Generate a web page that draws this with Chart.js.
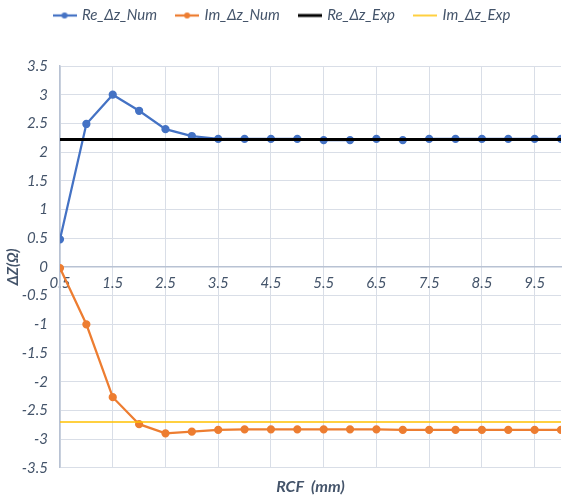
<!DOCTYPE html>
<html>
<head>
<meta charset="utf-8">
<script src="https://cdn.jsdelivr.net/npm/chart.js@4"></script>
<style>
  html,body{margin:0;padding:0;background:#fff;}
  #wrap{width:563px;height:500px;}
</style>
</head>
<body>
<div id="wrap"><canvas id="grafics"></canvas></div>
<script>
// datos
const rcf = [0.5,1,1.5,2,2.5,3,3.5,4,4.5,5,5.5,6,6.5,7,7.5,8,8.5,9,9.5,10]
const re_num = [0.48,2.49,3.0,2.72,2.40,2.28,2.23,2.23,2.23,2.23,2.21,2.21,2.23,2.21,2.23,2.23,2.23,2.23,2.23,2.23]
const im_num = [-0.02,-1.0,-2.27,-2.74,-2.90,-2.87,-2.84,-2.83,-2.83,-2.83,-2.83,-2.83,-2.83,-2.84,-2.84,-2.84,-2.84,-2.84,-2.84,-2.84]
const re_exp = 2.22
const im_exp = -2.70
const x_ticks = [0.5,1.5,2.5,3.5,4.5,5.5,6.5,7.5,8.5,9.5]
const labels = ['Re_Δz_Num','Im_Δz_Num','Re_Δz_Exp','Im_Δz_Exp']

window.addEventListener('load',()=>{
    const canvas = document.getElementById('grafics')
    const txt = '#44546A'
    const grid = '#D9DEE7'
    Chart.defaults.font.family = 'Lato'

    //simbolo de la leyenda: linea con punto
    function symbol(color,width,dot){
        const c = document.createElement('canvas')
        c.width = 24; c.height = 10
        const g = c.getContext('2d')
        g.strokeStyle = color; g.lineWidth = width
        g.beginPath(); g.moveTo(0,5); g.lineTo(24,5); g.stroke()
        if(dot){
            g.fillStyle = color
            g.beginPath(); g.arc(12,5,3,0,Math.PI*2); g.fill()
        }
        return c
    }

    let first = rcf[0], last = rcf[rcf.length-1]
    let data_re = {label:labels[0],data:rcf.map((x,i)=>({x:x,y:re_num[i]})),borderColor:'#4472C4',backgroundColor:'#4472C4',borderWidth:2.25,pointRadius:3,pointHoverRadius:3,order:2}
    let data_im = {label:labels[1],data:rcf.map((x,i)=>({x:x,y:im_num[i]})),borderColor:'#ED7D31',backgroundColor:'#ED7D31',borderWidth:2.25,pointRadius:3,pointHoverRadius:3,order:2}
    let data_re_exp = {label:labels[2],data:[{x:first,y:re_exp},{x:last,y:re_exp}],borderColor:'#000000',borderWidth:3,pointRadius:0,order:0}
    let data_im_exp = {label:labels[3],data:[{x:first,y:im_exp},{x:last,y:im_exp}],borderColor:'#FFC000',borderWidth:1.5,pointRadius:0,order:1}
    const symbols = [symbol('#4472C4',2.25,true),symbol('#ED7D31',2.25,true),symbol('#000000',3,false),symbol('#FFC000',1.5,false)]

    //espacio debajo de la leyenda
    const legendGap = {
        id:'legendGap',
        beforeInit(chart){
            const fit = chart.legend.fit
            chart.legend.fit = function(){
                fit.bind(chart.legend)()
                this.height += 33
            }
        }
    }

    new Chart(canvas.getContext('2d'),{
        type:'line',
        data:{datasets:[data_re,data_im,data_re_exp,data_im_exp]},
        plugins:[legendGap],
        options:{
            responsive:true,
            maintainAspectRatio:false,
            animation:false,
            layout:{autoPadding:false,padding:{left:4,right:2,top:-12,bottom:2}},
            plugins:{
                tooltip:{enabled:false},
                legend:{
                    position:'top',
                    labels:{
                        usePointStyle:true,
                        pointStyleWidth:20,
                        padding:20,
                        color:txt,
                        font:{size:15,style:'italic'},
                        generateLabels:()=>labels.map((l,i)=>({text:l,pointStyle:symbols[i],fontColor:txt,datasetIndex:i,lineWidth:0,strokeStyle:'transparent',fillStyle:'transparent'}))
                    }
                }
            },
            scales:{
                x:{
                    type:'linear',
                    min:first,max:last,
                    position:{y:0},
                    afterBuildTicks:(s)=>{s.ticks = x_ticks.map(v=>({value:v}))},
                    ticks:{color:txt,font:{size:15,style:'italic'},padding:7,maxRotation:0,autoSkip:false,callback:(v)=>String(v)},
                    grid:{color:grid,drawTicks:false},
                    border:{color:'#B8C2D3',width:1.5}
                },
                x2:{
                    type:'linear',
                    axis:'x',
                    position:'bottom',
                    min:first,max:last,
                    ticks:{display:false},
                    grid:{display:false,drawTicks:false},
                    border:{display:false},
                    title:{display:true,text:'RCF  (mm)',color:txt,font:{size:16,style:'italic',weight:'bold'},padding:{top:9,bottom:2}}
                },
                y:{
                    min:-3.5,max:3.5,
                    afterFit:(s)=>{s.width = 56},
                    ticks:{stepSize:0.5,color:txt,font:{size:15,style:'italic'},padding:12,callback:(v)=>String(v)},
                    grid:{color:grid,drawTicks:false},
                    border:{color:'#B8C2D3',width:1.5},
                    title:{display:true,text:'ΔZ(Ω)',color:txt,font:{size:15,style:'italic',weight:'bold'},padding:{top:0,bottom:4}}
                }
            }
        }
    })
})
</script>
</body>
</html>
